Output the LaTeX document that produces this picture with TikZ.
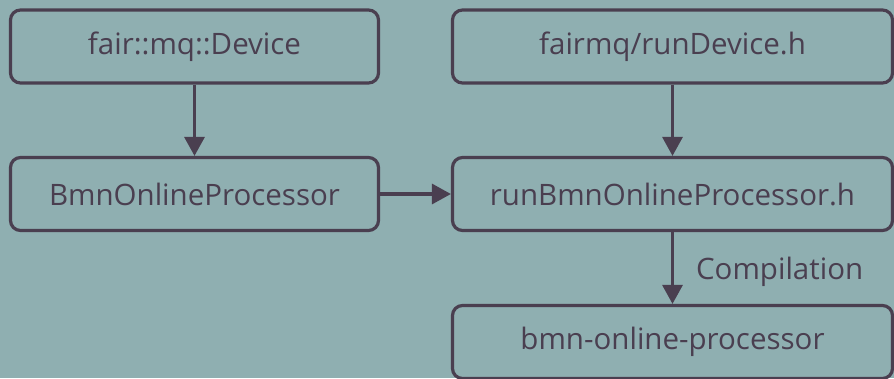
\documentclass[tikz,border=0pt]{standalone}
\usepackage{fontspec}
\setmainfont{Open Sans}
\usetikzlibrary{arrows.meta}
\definecolor{bg}{HTML}{8FAFB1}
\definecolor{ink}{HTML}{4A3F50}
\begin{document}
\begin{tikzpicture}[x=1pt,y=-1pt,
  txt/.style={text=ink,font=\fontsize{29.5}{33}\selectfont},
  box/.style={txt,draw=ink,line width=3.2pt,rounded corners=10pt,minimum height=73pt,inner sep=0pt},
  conn/.style={draw=ink,line width=3.2pt,-{Triangle[length=19pt,width=20pt]}}]
\fill[bg] (0,0) rectangle (894,378);
\useasboundingbox (0,0) rectangle (894,378);
\node[box,minimum width=368pt] (dev) at (194.5,46.5) {fair::mq::Device};
\node[box,minimum width=440pt] (run) at (672.5,46.5) {fairmq/runDevice.h};
\node[box,minimum width=368pt] (bop) at (194.5,194) {BmnOnlineProcessor};
\node[box,minimum width=440pt] (rbop) at (672.5,194) {runBmnOnlineProcessor.h};
\node[box,minimum width=440pt] (exe) at (672.5,342) {bmn-online-processor};
\draw[conn] (dev) -- (bop);
\draw[conn] (run) -- (rbop);
\draw[conn] (bop) -- (rbop);
\draw[conn] (rbop) -- node[right=22pt,inner sep=0pt,yshift=-4pt,txt]{Compilation} (exe);
\end{tikzpicture}
\end{document}
